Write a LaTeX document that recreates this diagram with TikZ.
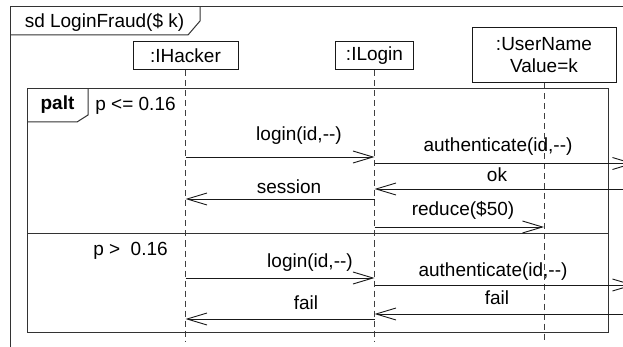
\documentclass[tikz,border=0pt]{standalone}
\usepackage{fontspec}
\setmainfont{Liberation Sans}
\usetikzlibrary{arrows.meta}
\begin{document}
\begin{tikzpicture}[x=1pt,y=-1pt,
  font=\fontsize{19}{22}\selectfont,
  frameline/.style={line width=1pt, draw=black!80},
  objbox/.style={draw=black!90, line width=1pt, inner sep=0pt, align=center},
  lifeline/.style={line width=0.8pt, draw=black!75, dash pattern=on 6pt off 4pt},
  msg/.style={line width=0.9pt, draw=black!90, -{Straight Barb[length=20pt,width=12pt,line width=0.9pt]}},
  lbl/.style={inner sep=0pt, anchor=center}]
\useasboundingbox (0,0) rectangle (623,347);
\clip (0,0) rectangle (623,347);
\fill[white] (0,0) rectangle (623,347);

% outer frame
\coordinate (fBL) at (10,360);
\coordinate (fTL) at (10,7);
\coordinate (fTR) at (640,7);
\draw[frameline] (fBL) -- (fTL) -- (fTR);
\coordinate (tA) at (10,35);
\coordinate (tB) at (188,35);
\coordinate (tC) at (200,21);
\coordinate (tD) at (200,7);
\draw[frameline] (tA) -- (tB) -- (tC) -- (tD);
\node[lbl] (title) at (104.5,22) {sd LoginFraud(\$ k)};

% objects
\node[objbox, minimum width=105pt, minimum height=28pt] (hacker) at (185.5,56) {:IHacker};
\node[objbox, minimum width=78pt, minimum height=28pt] (login) at (374.5,56) {:ILogin};
\node[objbox, minimum width=144pt, minimum height=55pt] (user) at (544,55.5) {:UserName\\Value=k};

\coordinate (hEnd) at (185.5,342);
\coordinate (lEnd) at (374.5,342);
\coordinate (uEnd) at (544,342);
\draw[lifeline] (hacker.south) -- (hEnd);
\draw[lifeline] (login.south) -- (lEnd);
\draw[lifeline] (user.south) -- (uEnd);

% palt frame
\node[draw=black!80, line width=1pt, minimum width=581pt, minimum height=243pt, inner sep=0pt] (palt) at (317.5,210.5) {};
\coordinate (pA) at (27,122);
\coordinate (pB) at (77,122);
\coordinate (pC) at (88,115);
\coordinate (pD) at (88,89);
\draw[frameline] (pA) -- (pB) -- (pC) -- (pD);
\node[lbl, font=\fontsize{19}{22}\selectfont\bfseries] (paltlbl) at (57.5,105) {palt};
\node[lbl] (g1) at (135.5,106) {p <= 0.16};
\coordinate (sepL) at (27,233.5);
\coordinate (sepR) at (608,233.5);
\draw[frameline] (sepL) -- (sepR);
\node[lbl] (g2) at (130.5,251) {p >\ \ 0.16};

% message end points
\coordinate (h1) at (185.5,157);
\coordinate (l1) at (374.5,157);
\coordinate (l2) at (374.5,163.5);
\coordinate (r2) at (634,163.5);
\coordinate (r3) at (640,189);
\coordinate (l3) at (374.5,189);
\coordinate (l4) at (374.5,199);
\coordinate (h4) at (185.5,199);
\coordinate (l5) at (374.5,227);
\coordinate (u5) at (544,227);
\coordinate (h6) at (185.5,278);
\coordinate (l6) at (374.5,278);
\coordinate (l7) at (374.5,285);
\coordinate (r7) at (634,285);
\coordinate (r8) at (640,314);
\coordinate (l8) at (374.5,314);
\coordinate (l9) at (374.5,319);
\coordinate (h9) at (185.5,319);

\draw[msg] (h1) -- (l1);
\draw[msg] (l2) -- (r2);
\draw[msg] (r3) -- (l3);
\draw[msg] (l4) -- (h4);
\draw[msg] (l5) -- (u5);
\draw[msg] (h6) -- (l6);
\draw[msg] (l7) -- (r7);
\draw[msg] (r8) -- (l8);
\draw[msg] (l9) -- (h9);

% message labels
\node[lbl] (m1) at (299,136) {login(id,{-}{-})};
\node[lbl] (m2) at (498,147) {authenticate(id,{-}{-})};
\node[lbl] (m3) at (497,175) {ok};
\node[lbl] (m4) at (289,187) {session};
\node[lbl] (m5) at (463,210) {reduce(\$50)};
\node[lbl] (m6) at (310,263) {login(id,{-}{-})};
\node[lbl] (m7) at (493,272) {authenticate(id,{-}{-})};
\node[lbl] (m8) at (497,298) {fail};
\node[lbl] (m9) at (306,303) {fail};
\end{tikzpicture}
\end{document}
